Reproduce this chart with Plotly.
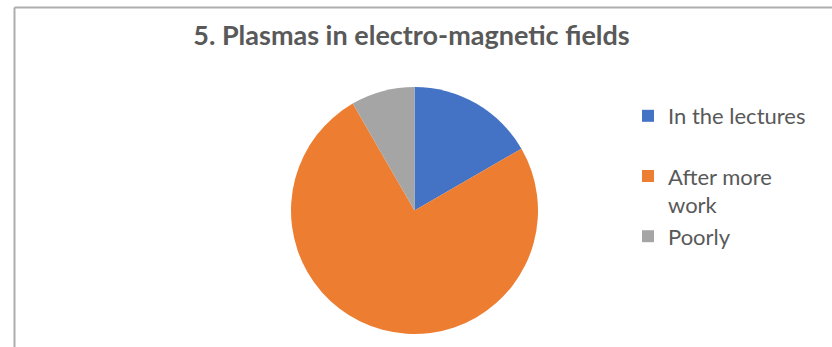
import plotly.graph_objects as go

W, H = 832, 347

# Survey answers for topic 5
categories = ["In the lectures", "After more work", "Poorly"]
legend_labels = ["In the lectures<br> ", "After more<br>work", "Poorly"]
responses = [2, 9, 1]
colors = ["#4472C4", "#ED7D31", "#A5A5A5"]

fig = go.Figure(
    go.Pie(
        labels=legend_labels,
        values=responses,
        sort=False,
        direction="clockwise",
        rotation=0,
        marker=dict(colors=colors, line=dict(width=0)),
        textinfo="none",
        hoverinfo="skip",
        domain=dict(x=[291 / W, 538 / W], y=[1 - 334 / H, 1 - 87 / H]),
    )
)

border = "#ADADAD"
fig.update_layout(
    width=W,
    height=H,
    margin=dict(l=0, r=0, t=0, b=0),
    paper_bgcolor="white",
    plot_bgcolor="white",
    title=dict(
        text="<b>5. Plasmas in electro-magnetic fields</b>",
        x=411.5 / W,
        xanchor="center",
        y=1 - 36 / H,
        yanchor="middle",
        font=dict(family="Lato", size=27, color="#595959"),
    ),
    legend=dict(
        x=628 / W,
        xanchor="left",
        y=1 - 95 / H,
        yanchor="top",
        valign="top",
        font=dict(family="Lato", size=22, color="#595959"),
        tracegroupgap=0,
        bgcolor="rgba(0,0,0,0)",
    ),
    shapes=[
        dict(type="line", xref="paper", yref="paper",
             x0=14.5 / W, x1=1.01, y0=1 - 7.5 / H, y1=1 - 7.5 / H,
             line=dict(color=border, width=2)),
        dict(type="line", xref="paper", yref="paper",
             x0=14.5 / W, x1=14.5 / W, y0=1 - 7.5 / H, y1=-0.01,
             line=dict(color=border, width=2)),
    ],
)

fig.write_html("out.html")
